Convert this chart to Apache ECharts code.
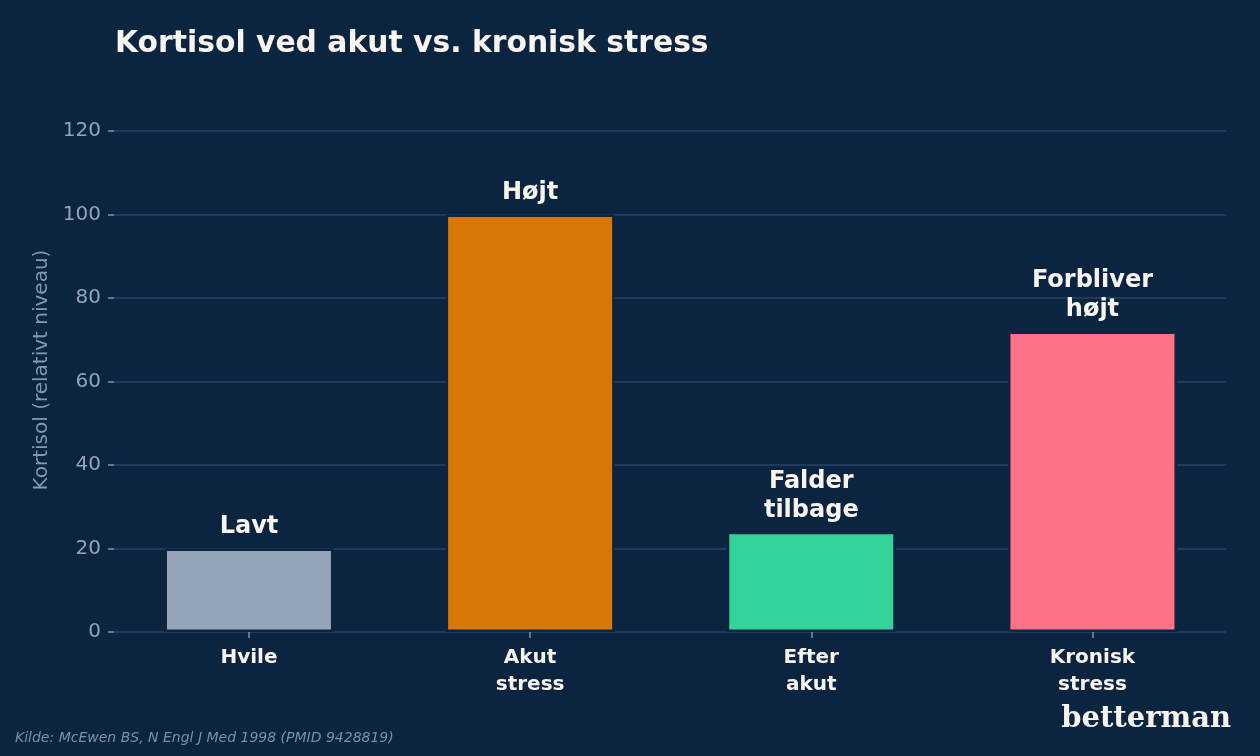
<!DOCTYPE html>
<html>
<head>
<meta charset="utf-8">
<script src="https://cdn.jsdelivr.net/npm/echarts@6/dist/echarts.min.js"></script>
<style>
  html, body { margin: 0; padding: 0; background: #0b2540; }
  #chart { width: 1260px; height: 756px; }
</style>
</head>
<body>
<div id="chart"></div>
<script>
// Kategorier, værdier og etiketter
const categories = ["Hvile", "Akut\nstress", "Efter\nakut", "Kronisk\nstress"];
const values = [20, 100, 24, 72];
const barLabels = ["Lavt", "Højt", "Falder\ntilbage", "Forbliver\nhøjt"];
const barColors = ["#94a3b8", "#d97706", "#34d399", "#ff7186"];
const yTicks = [0, 20, 40, 60, 80, 100, 120];

const BG = "#0b2540";
const GRID = "#1e3a5f";
const MUTED = "#94a3b8";
const TEXT = "#f8f5f0";
const FONT = "DejaVu Sans";

const chart = echarts.init(document.getElementById("chart"), null, { renderer: "canvas" });

const seriesData = values.map((v, i) => ({
  value: [i, v],
  itemStyle: { color: barColors[i] },
  label: { formatter: barLabels[i] },
}));

chart.setOption({
  backgroundColor: BG,
  animation: false,
  title: {
    text: "Kortisol ved akut vs. kronisk stress",
    left: 110,
    top: 24,
    textStyle: { color: TEXT, fontFamily: FONT, fontWeight: "bold", fontSize: 29.8 },
  },
  grid: { left: 114, right: 34, top: 131, bottom: 124 },
  xAxis: {
    type: "value",
    min: -0.48,
    max: 3.475,
    splitLine: { show: false },
    axisLine: { show: false },
    axisTick: {
      show: true,
      customValues: [0, 1, 2, 3],
      length: 6,
      lineStyle: { color: "#7f93ad", width: 1.5 },
    },
    axisLabel: {
      customValues: [0, 1, 2, 3],
      margin: 12,
      color: TEXT,
      fontFamily: FONT,
      fontWeight: "bold",
      fontSize: 20,
      lineHeight: 27,
      formatter: (v) => categories[Math.round(v)] ?? "",
    },
  },
  yAxis: {
    type: "value",
    min: 0,
    max: 120,
    interval: 20,
    axisLine: { show: false, onZero: false },
    axisTick: { show: true, length: 6, lineStyle: { color: "#7f93ad", width: 1.5 } },
    axisLabel: {
      margin: 13,
      color: MUTED,
      fontFamily: FONT,
      fontSize: 20,
      customValues: yTicks,
    },
    splitLine: { lineStyle: { color: GRID, width: 2 } },
  },
  series: [
    {
      type: "bar",
      barWidth: 169,
      data: seriesData,
      itemStyle: { borderColor: BG, borderWidth: 2.5 },
      label: {
        show: true,
        position: "top",
        distance: 7,
        color: TEXT,
        fontFamily: FONT,
        fontWeight: "bold",
        fontSize: 24,
        lineHeight: 29,
        align: "center",
      },
    },
  ],
  graphic: [
    {
      type: "text",
      x: 42,
      y: 370,
      rotation: Math.PI / 2,
      style: {
        text: "Kortisol (relativt niveau)",
        fill: "#8497b0",
        font: "20px 'DejaVu Sans'",
        align: "center",
        verticalAlign: "middle",
      },
    },
    {
      type: "text",
      left: 15,
      top: 731,
      style: {
        text: "Kilde: McEwen BS, N Engl J Med 1998 (PMID 9428819)",
        fill: "#7d8fa8",
        font: "italic 14px 'DejaVu Sans'",
      },
    },
    {
      type: "text",
      right: 29,
      top: 705,
      style: {
        text: "betterman",
        fill: TEXT,
        font: "bold 29px 'DejaVu Serif'",
      },
    },
  ],
});
</script>
</body>
</html>
